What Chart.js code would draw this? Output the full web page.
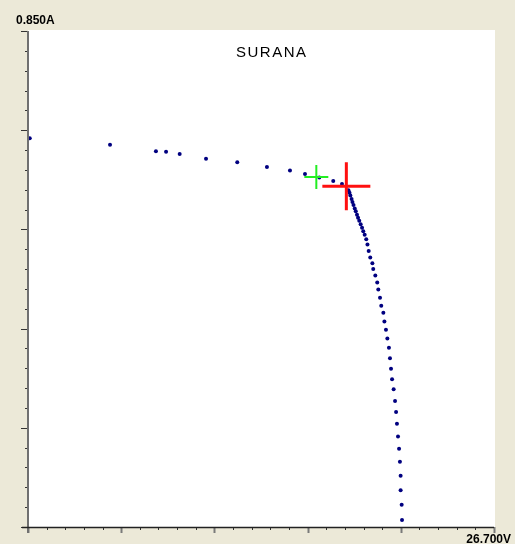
<!DOCTYPE html>
<html>
<head>
<meta charset="utf-8">
<script src="https://cdn.jsdelivr.net/npm/chart.js@4"></script>
<style>
  html, body { margin: 0; padding: 0; background: #ECE9D8; }
  canvas { display: block; }
</style>
</head>
<body>
<canvas id="ivChart" width="515" height="544"></canvas>
<script>
// I-V curve readings (volts, amps)
const voltage = [0.10, 4.70, 7.33, 7.91, 8.69, 10.20, 11.99, 13.69, 15.01, 15.87, 16.69, 17.49, 17.99,
  18.36, 18.42, 18.47, 18.54, 18.59, 18.65, 18.72, 18.78, 18.85, 18.91, 18.98, 19.06, 19.14, 19.21,
  19.29, 19.38, 19.45, 19.52, 19.61, 19.73, 19.78, 19.90, 20.01, 20.07, 20.17, 20.24, 20.36, 20.42,
  20.51, 20.59, 20.68, 20.74, 20.80, 20.86, 20.95, 21.03, 21.09, 21.14, 21.20, 21.26, 21.31, 21.35,
  21.35, 21.41, 21.43];
const current = [0.666, 0.655, 0.644, 0.643, 0.639, 0.631, 0.625, 0.617, 0.611, 0.605, 0.599, 0.593, 0.588,
  0.577, 0.573, 0.568, 0.562, 0.557, 0.552, 0.546, 0.541, 0.535, 0.530, 0.525, 0.519, 0.513, 0.507,
  0.501, 0.493, 0.484, 0.473, 0.462, 0.452, 0.442, 0.431, 0.419, 0.407, 0.393, 0.379, 0.367, 0.352,
  0.338, 0.323, 0.307, 0.289, 0.271, 0.253, 0.236, 0.216, 0.197, 0.177, 0.155, 0.134, 0.112, 0.088,
  0.063, 0.038, 0.012];

// markers
const markerGreen = { x: 16.52, y: 0.600 };
const markerRed = { x: 18.24, y: 0.584 };

const xMax = 26.7;
const yMax = 0.85;
const xLabel = '26.700V';
const yLabel = '0.850A';
const title = 'SURANA';

const points = voltage.map((v, i) => ({ x: v, y: current[i] }));

const axesPlugin = {
  id: 'axesPlugin',
  beforeDraw(chart) {
    const c = chart.ctx;
    const a = chart.chartArea;
    c.save();
    c.fillStyle = '#ECE9D8';
    c.fillRect(0, 0, chart.width, chart.height);
    c.fillStyle = '#FFFFFF';
    c.fillRect(a.left, a.top - 1, a.right - a.left + 1, a.bottom - a.top + 1);
    c.restore();
  },
  afterDraw(chart) {
    const c = chart.ctx;
    const a = chart.chartArea;
    const xs = chart.scales.x;
    const ys = chart.scales.y;
    c.save();

    // ticks
    for (let i = 0; i <= 25; i++) {
      const px = Math.round(xs.getPixelForValue(xMax * i / 25)) + 0.5;
      const len = i % 5 === 0 ? 6 : 3;
      c.strokeStyle = i % 5 === 0 ? '#7a7a7a' : '#333333';
      c.lineWidth = i % 5 === 0 ? 2 : 1;
      c.beginPath();
      c.moveTo(px, a.bottom);
      c.lineTo(px, a.bottom + len);
      c.stroke();
    }
    for (let i = 0; i <= 25; i++) {
      const py = Math.round(ys.getPixelForValue(yMax * i / 25)) + 0.5;
      const len = i % 5 === 0 ? 7 : 3;
      c.strokeStyle = '#333333';
      c.lineWidth = 1;
      c.beginPath();
      c.moveTo(a.left - len, py);
      c.lineTo(a.left, py);
      c.stroke();
    }

    // axis lines
    c.strokeStyle = '#707070';
    c.lineWidth = 2;
    c.beginPath();
    c.moveTo(a.left, a.top);
    c.lineTo(a.left, a.bottom + 6);
    c.stroke();
    c.strokeStyle = '#222222';
    c.lineWidth = 1.5;
    c.beginPath();
    c.moveTo(a.left - 6, a.bottom + 0.5);
    c.lineTo(a.right, a.bottom + 0.5);
    c.stroke();

    // labels
    c.fillStyle = '#000000';
    c.font = 'bold 12px "Liberation Sans", Arial, sans-serif';
    c.textAlign = 'left';
    c.textBaseline = 'alphabetic';
    c.fillText(yLabel, 16, 24);
    c.textAlign = 'right';
    c.fillText(xLabel, 511, 543);

    // title
    c.font = '15px "Liberation Sans", Arial, sans-serif';
    c.letterSpacing = '1.5px';
    c.textAlign = 'left';
    c.fillText(title, 236, 57);
    c.restore();
  }
};

new Chart(document.getElementById('ivChart'), {
  type: 'scatter',
  data: {
    datasets: [
      {
        data: [markerRed],
        pointStyle: 'cross',
        pointRadius: 24,
        borderColor: '#FF1010',
        borderWidth: 3,
        order: 0
      },
      {
        data: [markerGreen],
        pointStyle: 'cross',
        pointRadius: 12,
        borderColor: '#22EE22',
        borderWidth: 2,
        order: 1
      },
      {
        data: points,
        pointStyle: 'circle',
        pointRadius: 2,
        backgroundColor: '#000080',
        borderColor: '#000080',
        borderWidth: 0,
        order: 2
      }
    ]
  },
  options: {
    responsive: false,
    animation: false,
    layout: { autoPadding: false, padding: { left: 28, top: 31, right: 21, bottom: 17 } },
    scales: {
      x: { type: 'linear', min: 0, max: xMax, display: false },
      y: { type: 'linear', min: 0, max: yMax, display: false }
    },
    plugins: {
      legend: { display: false },
      tooltip: { enabled: false }
    }
  },
  plugins: [axesPlugin]
});
</script>
</body>
</html>
